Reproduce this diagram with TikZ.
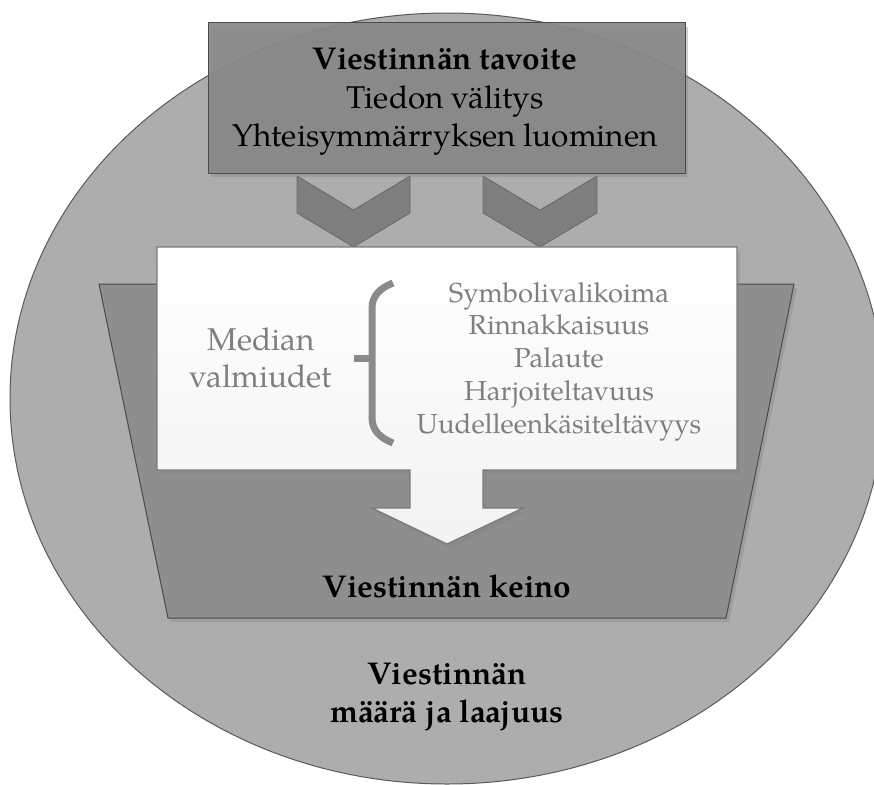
\documentclass[tikz,border=0pt]{standalone}
\usepackage{fontspec}
\setmainfont{TeX Gyre Pagella}
\usetikzlibrary{shadows}
\definecolor{ellfill}{HTML}{ADADAD}
\definecolor{ellline}{HTML}{5A5A5A}
\definecolor{trapfill}{HTML}{8E8E8E}
\definecolor{darkline}{HTML}{4A4A4A}
\definecolor{goalfill}{HTML}{888888}
\definecolor{chevfill}{HTML}{7E7E7E}
\definecolor{chevline}{HTML}{6A6A6A}
\definecolor{boxline}{HTML}{7A7A7A}
\definecolor{softtext}{HTML}{7F7F7F}
\definecolor{bracecol}{HTML}{8A8A8A}
\tikzset{
  ellstyle/.style={fill=ellfill, draw=ellline, line width=1pt},
  trapstyle/.style={fill=trapfill, draw=darkline, line width=1pt,
    drop shadow={shadow xshift=3pt, shadow yshift=-4pt, opacity=0.35}},
  goalstyle/.style={fill=goalfill, fill opacity=0.92, draw=darkline, line width=1pt,
    drop shadow={shadow xshift=3pt, shadow yshift=-4pt, opacity=0.35}},
  chevstyle/.style={fill=chevfill, draw=chevline, line width=0.8pt},
  whitestyle/.style={top color=white, bottom color=black!5, draw=boxline, line width=1.2pt,
    drop shadow={shadow xshift=3pt, shadow yshift=-4pt, opacity=0.3}},
  bracestyle/.style={draw=bracecol, line width=7pt},
  txt/.style={anchor=base, inner sep=0pt, outer sep=0pt}
}
\begin{document}
\begin{tikzpicture}[x=1pt,y=-1pt]
\useasboundingbox (0,0) rectangle (874,784);
\fill[white] (0,0) rectangle (874,784);
% outer ellipse
\draw[ellstyle] (447,398.5) ellipse [x radius=437, y radius=385.5];
% trapezoid
\draw[trapstyle] (99,284) -- (794,284) -- (726,618) -- (168,618) -- cycle;
% chevrons
\draw[chevstyle] (297,176) -- (353.5,210) -- (410,176) -- (410,213) -- (353.5,247) -- (297,213) -- cycle;
\draw[chevstyle] (483,176) -- (540,210) -- (597,176) -- (597,213) -- (540,247) -- (483,213) -- cycle;
% goal rectangle
\draw[goalstyle] (208,23) rectangle (685,173);
% white box with arrow
\draw[whitestyle] (157,247) -- (737,247) -- (737,470) -- (483,470) -- (483,508) -- (523,508)
  -- (447,544) -- (372,508) -- (410,508) -- (410,470) -- (157,470) -- cycle;
% brace
\draw[bracestyle] (393,283) .. controls (380,288) and (372,296) .. (372,308) -- (372,418)
  .. controls (372,430) and (380,438) .. (393,443);
\draw[bracestyle] (354,358) -- (372,358);
% texts
\node[txt] (goal) at (445,70) {\fontsize{31.5}{38.5}\selectfont\begin{tabular}[t]{@{}c@{}}\textbf{Viestinnän tavoite}\\ Tiedon välitys\\ Yhteisymmärryksen luominen\end{tabular}};
\node[txt, text=softtext] (media) at (261,350) {\fontsize{31.5}{37}\selectfont\begin{tabular}[t]{@{}c@{}}Median\\ valmiudet\end{tabular}};
\node[txt, text=softtext] (list) at (559,302) {\fontsize{27.5}{32.75}\selectfont\begin{tabular}[t]{@{}c@{}}Symbolivalikoima\\ Rinnakkaisuus\\ Palaute\\ Harjoiteltavuus\\ Uudelleenkäsiteltävyys\end{tabular}};
\node[txt] (keino) at (447,597) {\fontsize{31.5}{36}\selectfont\textbf{Viestinnän keino}};
\node[txt] (maara) at (447,684) {\fontsize{31.5}{38}\selectfont\begin{tabular}[t]{@{}c@{}}\textbf{Viestinnän}\\ \textbf{määrä ja laajuus}\end{tabular}};
\end{tikzpicture}
\end{document}
